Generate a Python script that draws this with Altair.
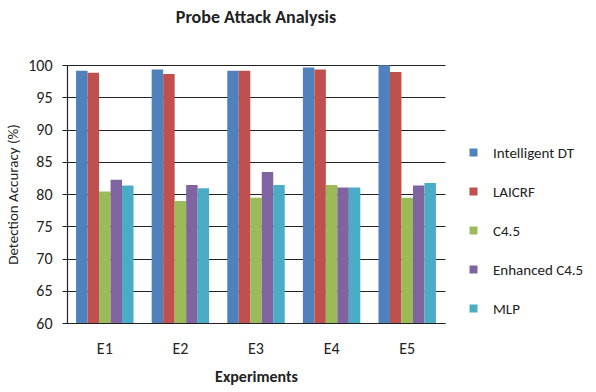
import altair as alt
import pandas as pd

experiments = ["E1", "E2", "E3", "E4", "E5"]
methods = ["Intelligent DT", "LAICRF", "C4.5", "Enhanced C4.5", "MLP"]
intelligent_dt = [99.1, 99.3, 99.1, 99.6, 99.95]
laicrf = [98.8, 98.6, 99.1, 99.3, 98.9]
c45 = [80.4, 78.9, 79.4, 81.4, 79.4]
enhanced_c45 = [82.2, 81.4, 83.4, 81.0, 81.3]
mlp = [81.3, 80.9, 81.4, 81.0, 81.7]
colors = ["#4F81BD", "#C0504D", "#9BBB59", "#8064A2", "#4BACC6"]

series = [intelligent_dt, laicrf, c45, enhanced_c45, mlp]
rows = []
for m, vals in zip(methods, series):
    for e, v in zip(experiments, vals):
        rows.append({"Experiment": e, "Method": m, "Value": v})
df = pd.DataFrame(rows)

FONT = "Carlito, Calibri, 'Open Sans', sans-serif"

chart = alt.Chart(df).mark_bar(clip=True).encode(
    x=alt.X("Experiment:N", sort=experiments,
            scale=alt.Scale(paddingInner=0.24, paddingOuter=0.12),
            axis=alt.Axis(title="Experiments", labelAngle=0, ticks=False,
                          labelPadding=17, labelFontSize=16, labelColor="#222",
                          titleFontSize=16, titleFontWeight="bold", titlePadding=12,
                          titleColor="#222", domainColor="#222", domainWidth=1.2,
                          labelFont=FONT, titleFont=FONT)),
    xOffset=alt.XOffset("Method:N", sort=methods),
    y=alt.Y("Value:Q", scale=alt.Scale(domain=[60, 100], nice=False, zero=False),
            axis=alt.Axis(title="Detection Accuracy (%)", values=list(range(60, 101, 5)),
                          tickSize=5, tickColor="#222", labelPadding=10,
                          labelFontSize=16, labelColor="#222", titleFontSize=15,
                          titleFontWeight="normal", titleColor="#222", titlePadding=7,
                          gridColor="#222", gridWidth=1.2, domainColor="#222",
                          domainWidth=1.2, labelFont=FONT, titleFont=FONT)),
    color=alt.Color("Method:N", sort=methods,
                    scale=alt.Scale(domain=methods, range=colors),
                    legend=alt.Legend(title=None, orient="none", legendX=399, legendY=80,
                                      symbolType="square", symbolSize=64,
                                      symbolStrokeWidth=0, labelFontSize=15,
                                      labelOffset=12, labelColor="#222", rowPadding=23,
                                      labelFont=FONT)),
).properties(
    width=378, height=258,
    title=alt.TitleParams("Probe Attack Analysis", fontSize=18, fontWeight="bold",
                          font=FONT, color="#222", offset=30, anchor="middle"),
    autosize=alt.AutoSizeParams(type="none"),
    padding={"left": 67, "top": 65, "right": 151, "bottom": 69},
).configure_view(stroke=None)

chart.save("out.html", embed_options={"renderer": "svg", "actions": False})
